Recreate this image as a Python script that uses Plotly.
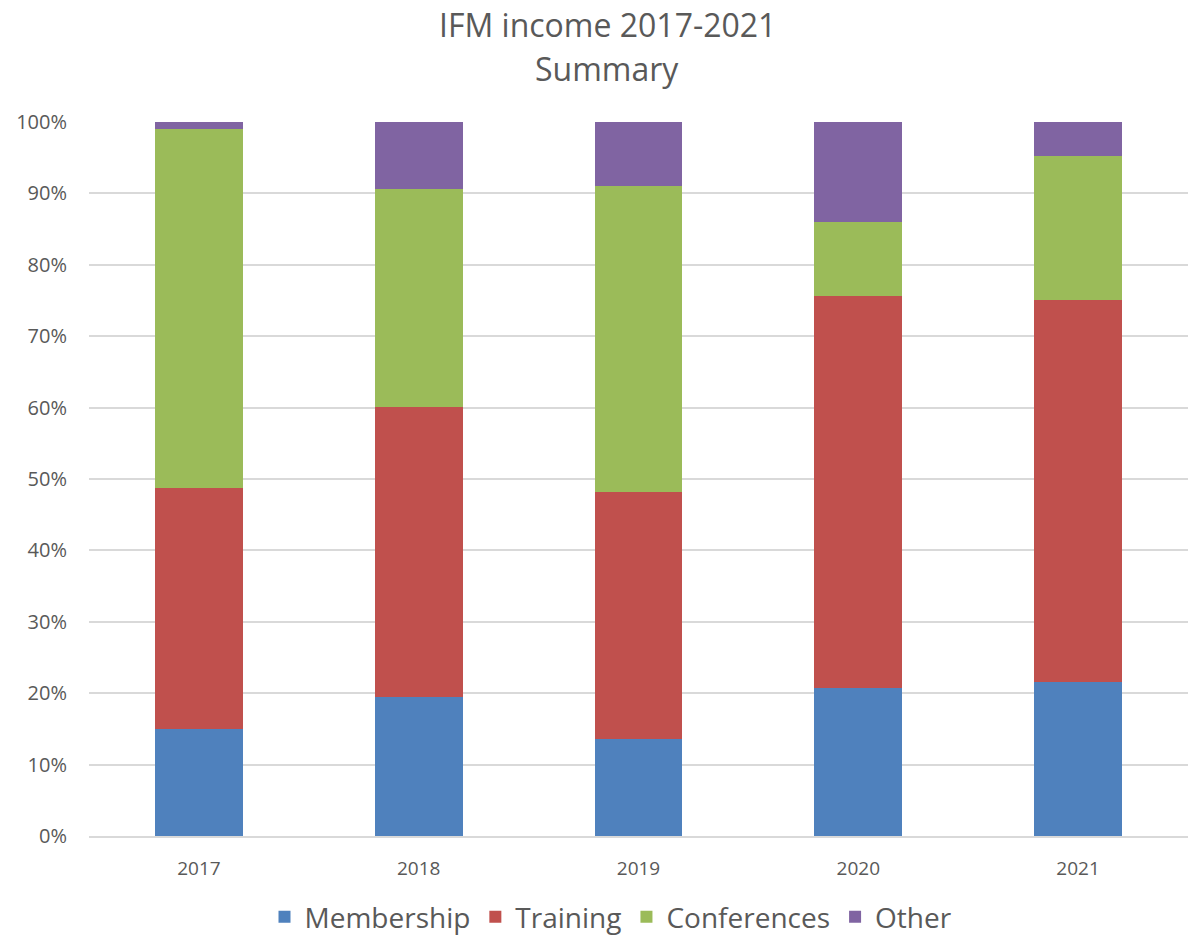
import plotly.graph_objects as go

years = ["2017", "2018", "2019", "2020", "2021"]
membership = [15.0, 19.5, 13.6, 20.7, 21.6]
training = [33.7, 40.6, 34.6, 55.0, 53.5]
conferences = [50.3, 30.5, 42.8, 10.3, 20.1]
other = [1.0, 9.4, 9.0, 14.0, 4.8]
y_ticks = [0, 10, 20, 30, 40, 50, 60, 70, 80, 90, 100]
y_tick_labels = [f"{v}%" for v in y_ticks]

series = [
    ("Membership", membership, "#4F81BD"),
    ("Training", training, "#C0504D"),
    ("Conferences", conferences, "#9BBB59"),
    ("Other", other, "#8064A2"),
]

FONT = "Open Sans"
TXT = "#595959"

fig = go.Figure()
for name, vals, col in series:
    fig.add_trace(go.Bar(x=years, y=vals, name=name, marker=dict(color=col, line=dict(width=0))))

L, R = 89, 1188
PW = R - L

def py(pix):
    return (836 - pix) / 714

def px(pix):
    return (pix - L) / PW

fig.update_layout(
    width=1192, height=942,
    barmode="stack",
    bargap=0.6,
    plot_bgcolor="white", paper_bgcolor="white",
    margin=dict(l=L, r=1192 - R, t=122, b=106),
    font=dict(family=FONT, color=TXT),
    showlegend=True,
    legend=dict(orientation="h", x=px(611), xanchor="center", yref="container", y=0.0, yanchor="bottom",
                font=dict(size=28, color=TXT, family=FONT), itemsizing="constant",
                traceorder="normal", itemwidth=30),
    annotations=[
        dict(text="IFM income 2017-2021", xref="paper", yref="paper", x=px(607), y=py(24),
             xanchor="center", yanchor="middle", showarrow=False, font=dict(size=32, color=TXT, family=FONT)),
        dict(text="Summary", xref="paper", yref="paper", x=px(607), y=py(68),
             xanchor="center", yanchor="middle", showarrow=False, font=dict(size=32, color=TXT, family=FONT)),
    ],
)
fig.update_yaxes(range=[0, 100], tickvals=y_ticks, ticktext=y_tick_labels, showgrid=True, gridcolor="#D9D9D9",
                 gridwidth=1.6, zeroline=False, showline=False, tickfont=dict(size=20, color=TXT),
                 ticks="", ticklabelstandoff=21)
fig.update_xaxes(showline=True, linecolor="#D9D9D9", linewidth=1.6, tickfont=dict(size=19, color=TXT),
                 ticks="", ticklabelstandoff=14)

fig.write_html("out.html")
